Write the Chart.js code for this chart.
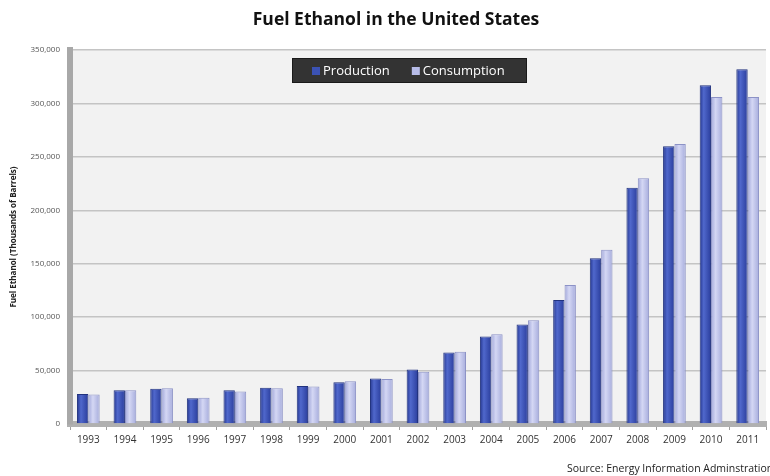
<!DOCTYPE html>
<html>
<head>
<meta charset="utf-8">
<script src="https://cdn.jsdelivr.net/npm/chart.js@4/dist/chart.umd.min.js"></script>
<style>
  html, body { margin: 0; padding: 0; background: #ffffff; }
  #wrap { width: 770px; height: 476px; }
</style>
</head>
<body>
<div id="wrap"><canvas id="c" width="770" height="476"></canvas></div>
<script>
const years = ['1993','1994','1995','1996','1997','1998','1999','2000','2001','2002','2003','2004','2005','2006','2007','2008','2009','2010','2011'];
const production = [28000, 31500, 33000, 24000, 31500, 34000, 35500, 39000, 42500, 51000, 67000, 82000, 93000, 116000, 155000, 221000, 260000, 317000, 332000];
const consumption = [27500, 31500, 33500, 24500, 30500, 33500, 35000, 40000, 42000, 49000, 67500, 84000, 97000, 130000, 163000, 230000, 262000, 306000, 306000];
const yTicks = [0, 50000, 100000, 150000, 200000, 250000, 300000, 350000];
const titleText = 'Fuel Ethanol in the United States';
const yAxisTitle = 'Fuel Ethanol (Thousands of Barrels)';
const sourceText = 'Source: Energy Information Adminstration';

const FONT = "'Open Sans', 'Liberation Sans', sans-serif";
const CAT_PCT = 0.62;

function barGradient(stops, fallback) {
  return function(c) {
    const chart = c.chart;
    const xs = chart.scales && chart.scales.x;
    if (!chart.chartArea || !xs || c.dataIndex === undefined) return fallback;
    const cx = xs.getPixelForValue(c.dataIndex);
    const w = (xs.width / years.length) * CAT_PCT / 2;
    const x0 = c.datasetIndex === 0 ? cx - w : cx;
    const g = chart.ctx.createLinearGradient(x0, 0, x0 + w, 0);
    stops.forEach(s => g.addColorStop(s[0], s[1]));
    return g;
  };
}

const plotBg = {
  id: 'plotBg',
  beforeDraw(chart) {
    const {ctx, chartArea: a} = chart;
    ctx.save();
    ctx.fillStyle = '#f2f2f2';
    ctx.fillRect(a.left, a.top, a.right - a.left, a.bottom - a.top);
    ctx.restore();
  }
};

const legendColors = ['#3b52b4', '#b7bce8'];

const customLegend = {
  id: 'customLegend',
  afterDraw(chart) {
    const ctx = chart.ctx;
    const ds = chart.data.datasets;
    ctx.save();
    // title
    ctx.font = 'bold 17.5px ' + FONT;
    ctx.fillStyle = '#111';
    ctx.textAlign = 'center';
    ctx.textBaseline = 'alphabetic';
    ctx.fillText(titleText, 396, 25);
    ctx.textAlign = 'left';
    // legend box
    ctx.fillStyle = '#333333';
    ctx.fillRect(292, 58, 235, 25);
    ctx.strokeStyle = '#1a1a1a';
    ctx.lineWidth = 1;
    ctx.strokeRect(292.5, 58.5, 234, 24);
    ctx.font = '13px ' + FONT;
    ctx.textBaseline = 'middle';
    let x = 312;
    ds.forEach((d, i) => {
      ctx.fillStyle = legendColors[i];
      ctx.fillRect(x, 67, 8, 8);
      ctx.fillStyle = '#ffffff';
      ctx.fillText(d.label, x + 11, 71);
      x += 11 + ctx.measureText(d.label).width + 22;
    });
    // source
    ctx.font = '10.5px ' + FONT;
    ctx.fillStyle = '#222';
    ctx.textBaseline = 'alphabetic';
    ctx.fillText(sourceText, 567, 472);
    ctx.restore();
  }
};

new Chart(document.getElementById('c'), {
  type: 'bar',
  data: {
    labels: years,
    datasets: [
      { label: 'Production', data: production,
        backgroundColor: barGradient([[0, '#24368f'], [0.35, '#5068cc'], [1, '#2a3d9c']], legendColors[0]),
        borderColor: '#22337f', borderWidth: {left:1,right:1,top:1,bottom:0}, categoryPercentage: CAT_PCT, barPercentage: 1.0 },
      { label: 'Consumption', data: consumption,
        backgroundColor: barGradient([[0, '#a1a7da'], [0.4, '#d4d7f4'], [1, '#a6acdc']], legendColors[1]),
        borderColor: '#8c92c6', borderWidth: {left:1,right:1,top:1,bottom:0}, categoryPercentage: CAT_PCT, barPercentage: 1.0 }
    ]
  },
  options: {
    responsive: false,
    animation: false,
    layout: { padding: { left: 0, right: 4, top: 50, bottom: 22 } },
    plugins: {
      legend: { display: false },
      tooltip: { enabled: false },
      title: { display: false }
    },
    scales: {
      x: {
        grid: { display: true, drawOnChartArea: false, offset: true, color: '#a0a0a0', tickLength: 6 },
        border: { display: true, color: '#b0b0b0', width: 6 },
        ticks: { color: '#333', font: { family: FONT, size: 10 }, padding: 4, maxRotation: 0, autoSkip: false },
        afterFit(scale) { scale.height = 30; }
      },
      y: {
        min: 0, max: 350000,
        afterBuildTicks(scale) { scale.ticks = yTicks.map(v => ({ value: v })); },
        grid: { color: '#c4c4c4', lineWidth: 1.5, drawTicks: false },
        border: { display: true, color: '#a8a8a8', width: 6 },
        ticks: {
          color: '#555', font: { family: FONT, size: 8 }, padding: 10,
          callback: v => v.toLocaleString('en-US')
        },
        title: {
          display: true, text: yAxisTitle, color: '#222',
          font: { family: FONT, size: 8, weight: 'bold' }, padding: { top: 9, bottom: 0 }
        },
        afterFit(scale) { scale.width = 70; }
      }
    }
  },
  plugins: [plotBg, customLegend]
});
</script>
</body>
</html>
